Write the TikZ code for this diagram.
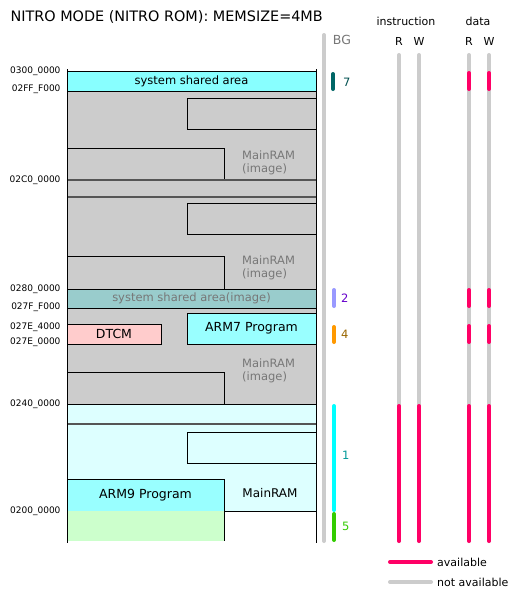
\documentclass[tikz,border=0pt]{standalone}
\usepackage{fontspec}
\setmainfont{DejaVu Sans}
\usetikzlibrary{positioning}
\definecolor{ramgray}{HTML}{CCCCCC}
\definecolor{sharedcol}{HTML}{88FFFF}
\definecolor{sharedimg}{HTML}{99CCCC}
\definecolor{progcol}{HTML}{99FFFF}
\definecolor{mainram}{HTML}{DDFFFF}
\definecolor{dtcmcol}{HTML}{FFCCCC}
\definecolor{lowcol}{HTML}{CCFFCC}
\definecolor{availcol}{HTML}{FF0066}
\definecolor{imgtext}{HTML}{777777}
\definecolor{sepline}{HTML}{555555}
\definecolor{bgone}{HTML}{00FFFF}
\tikzset{
	addr/.style={anchor=east,font=\fontsize{9}{10}\selectfont},
	blk/.style={draw=black,line width=0.8pt},
	sep/.style={draw=sepline,line width=1.4pt},
	imgnote/.style={anchor=west,align=left,text=imgtext,font=\fontsize{11.5}{13}\selectfont,inner sep=0pt},
	bgbar/.style={line width=4pt,line cap=round},
	offbar/.style={draw=ramgray,line width=4pt,line cap=round},
	onbar/.style={draw=availcol,line width=4pt,line cap=round},
	small/.style={font=\fontsize{11}{13}\selectfont}
}

\begin{document}
\begin{tikzpicture}[x=1pt,y=-1pt,font=\fontsize{11.5}{13}\selectfont]
	\useasboundingbox[fill=white] (0,0) rectangle (520,600);
	\node (title) at (7,17) [anchor=west,font=\fontsize{14.4}{17}\selectfont] {NITRO MODE (NITRO ROM): MEMSIZE=4MB};

	% memory map
	\fill[ramgray] (67,91) rectangle (316,404);
	\draw[blk,fill=sharedcol] (67,71) rectangle (316,91) node[midway] (shared) {system shared area};
	\draw[blk,fill=ramgray] (187,98) rectangle (316,129);
	\draw[blk,fill=ramgray] (67,148) rectangle (224,180);
	\draw[sep] (67,180) -- (316,180);
	\draw[sep] (67,197) -- (316,197);
	\draw[blk,fill=ramgray] (187,203) rectangle (316,234);
	\draw[blk,fill=ramgray] (67,256) rectangle (224,289);
	\draw[blk,fill=sharedimg] (67,289) rectangle (316,308) node[midway,text=imgtext] (sharedimage) {system shared area(image)};
	\draw[blk,fill=progcol] (187,313) rectangle (316,344) node[midway,font=\fontsize{12.5}{14}\selectfont] (arm7) {ARM7 Program};
	\draw[blk,fill=dtcmcol] (67,324) rectangle (161,344) node[midway,font=\fontsize{12.5}{14}\selectfont] (dtcm) {DTCM};
	\draw[blk,fill=ramgray] (67,372) rectangle (224,404);
	\draw[blk,fill=mainram] (67,404) rectangle (316,511);
	\draw[sep] (67,424) -- (316,424);
	\draw[blk,fill=mainram] (187,432) rectangle (316,463);
	\draw[blk,fill=progcol] (67,479) rectangle (224,511) node[midway,font=\fontsize{12.5}{14}\selectfont] (arm9) {ARM9 Program};
	\fill[lowcol] (67,511) rectangle (224,541);
	\draw[blk] (224,511) -- (224,541);
	\draw[blk] (67,69) -- (67,543);
	\draw[blk] (316,69) -- (316,543);
	\node (img1) at (242,163) [imgnote] {MainRAM\\(image)};
	\node (img2) at (242,268) [imgnote] {MainRAM\\(image)};
	\node (img3) at (242,371) [imgnote] {MainRAM\\(image)};
	\node (ram) at (270,493) [font=\fontsize{12}{14}\selectfont] {MainRAM};

	% addresses
	\node (a1) at (64,71) [addr] {0300\_0000};
	\node (a2) at (64,89) [addr] {02FF\_F000};
	\node (a3) at (64,180) [addr] {02C0\_0000};
	\node (a4) at (64,289) [addr] {0280\_0000};
	\node (a5) at (64,307) [addr] {027F\_F000};
	\node (a6) at (64,327) [addr] {027E\_4000};
	\node (a7) at (64,342) [addr] {027E\_0000};
	\node (a8) at (64,404) [addr] {0240\_0000};
	\node (a9) at (64,511) [addr] {0200\_0000};

	% background numbers
	\draw[offbar] (324,35) -- (324,541);
	\node (bg) at (342,40) [text=imgtext,font=\fontsize{12.5}{14}\selectfont] {BG};
	\draw[bgbar,draw={rgb,255:red,0;green,102;blue,102}] (333,74) -- (333,89);
	\node (bg7) at (343,82) [anchor=west,inner sep=0pt,text={rgb,255:red,0;green,80;blue,80}] {7};
	\draw[bgbar,draw={rgb,255:red,153;green,153;blue,255}] (334,290) -- (334,306);
	\node (bg2) at (341,298) [anchor=west,inner sep=0pt,text={rgb,255:red,102;green,0;blue,204}] {2};
	\draw[bgbar,draw={rgb,255:red,255;green,153;blue,0}] (334,327) -- (334,342);
	\node (bg4) at (341,334) [anchor=west,inner sep=0pt,text={rgb,255:red,153;green,102;blue,0}] {4};
	\draw[bgbar,draw=bgone] (334,406) -- (334,510);
	\node (bg1) at (342,455) [anchor=west,inner sep=0pt,text={rgb,255:red,0;green,153;blue,153}] {1};
	\draw[bgbar,draw={rgb,255:red,51;green,204;blue,0}] (334,514) -- (334,540);
	\node (bg5) at (342,526) [anchor=west,inner sep=0pt,text={rgb,255:red,51;green,204;blue,0}] {5};

	% access columns
	\node (instr) at (406,21) [small] {instruction};
	\node (data) at (478,21) [small] {data};
	\foreach \cx/\cl in {399/R,419/W,469/R,489/W} {
		\node (col\cx) at (\cx,41) [small] {\cl};
		\draw[offbar] (\cx,55) -- (\cx,541);
		\draw[onbar] (\cx,406) -- (\cx,541);
	}
	\foreach \cx in {469,489} {
		\draw[onbar] (\cx,73) -- (\cx,89);
		\draw[onbar] (\cx,290) -- (\cx,306);
		\draw[onbar] (\cx,326) -- (\cx,342);
	}

	% legend
	\coordinate (onA) at (390,562);
	\coordinate (onB) at (431,562);
	\coordinate (offA) at (390,582);
	\coordinate (offB) at (431,582);
	\draw[onbar] (onA) -- (onB);
	\draw[offbar] (offA) -- (offB);
	\node (avail) [right=6pt of onB,inner sep=0pt,font=\fontsize{11}{13}\selectfont] {available};
	\node (notavail) [right=6pt of offB,inner sep=0pt,font=\fontsize{11}{13}\selectfont] {not available};
\end{tikzpicture}
\end{document}
